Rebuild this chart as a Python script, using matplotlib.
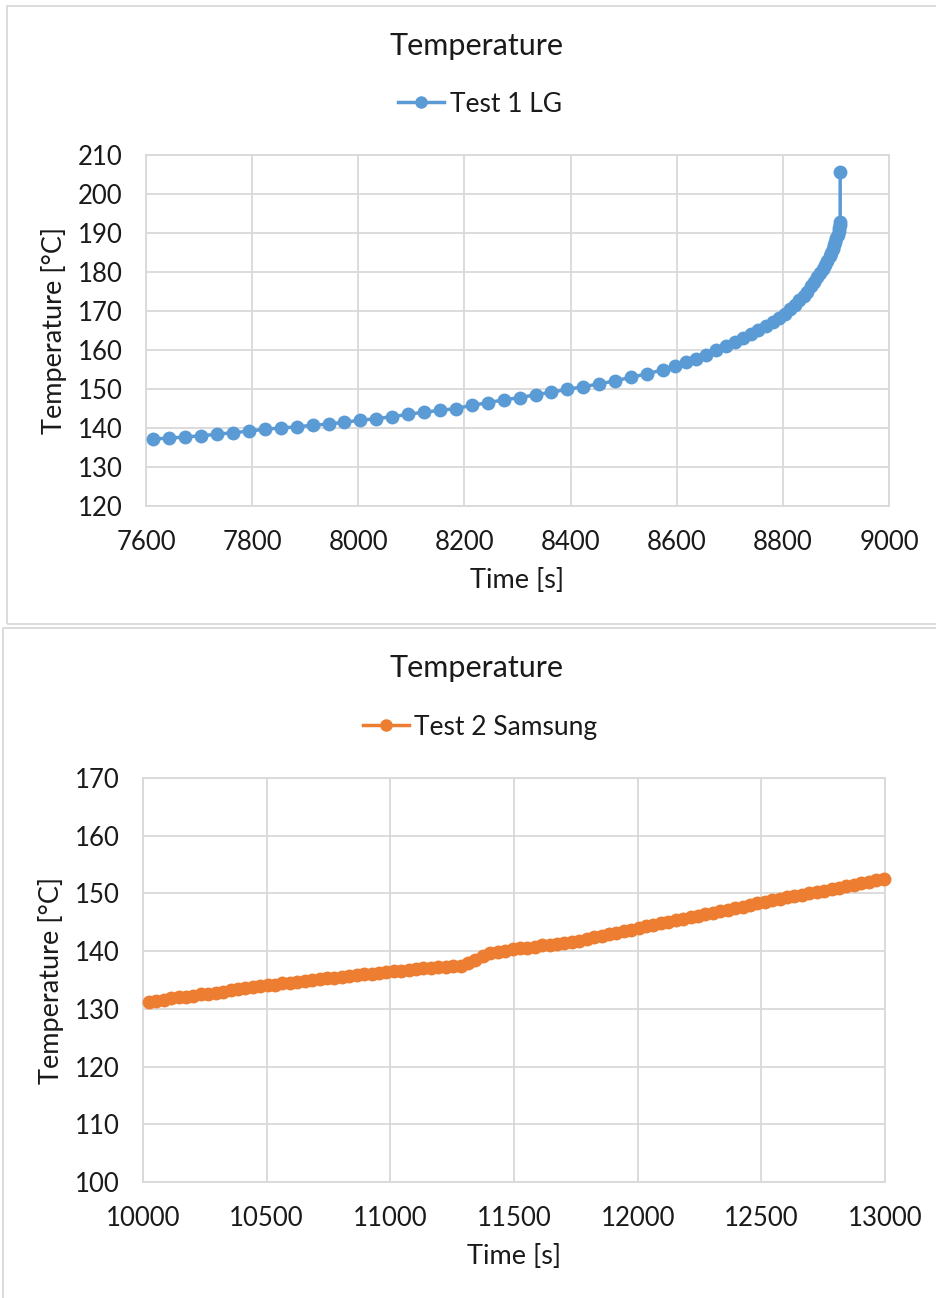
import matplotlib
matplotlib.use("Agg")
import matplotlib.pyplot as plt
from matplotlib.patches import Rectangle

# ---- Test 1 LG: time [s] and temperature [°C] ----
lg_time = [
    7614, 7644, 7674, 7704, 7734, 7764, 7794, 7824, 7854, 7884,
    7914, 7944, 7974, 8004, 8034, 8064, 8094, 8124, 8154, 8184,
    8214, 8244, 8274, 8304, 8334, 8364, 8394, 8424, 8454, 8484,
    8514, 8544, 8574,
    8596, 8617, 8637, 8656, 8674, 8692, 8709, 8725, 8740, 8754,
    8768, 8781, 8793, 8804,
    8814, 8823, 8831, 8839, 8846, 8853, 8859, 8865, 8870, 8875,
    8880, 8884, 8888, 8891, 8894, 8897, 8899, 8901, 8903, 8905,
    8906, 8907, 8908, 8908,
]
lg_temp = [
    137.2, 137.4, 137.7, 138.0, 138.4, 138.8, 139.2, 139.7, 140.0, 140.3,
    140.7, 141.0, 141.5, 142.0, 142.4, 142.9, 143.5, 144.1, 144.5, 145.0,
    145.8, 146.5, 147.2, 147.8, 148.5, 149.2, 149.9, 150.6, 151.3, 152.1,
    153.0, 153.9, 154.9,
    155.8, 156.9, 157.7, 158.8, 160.0, 161.0, 162.0, 163.0, 164.1, 165.1,
    166.1, 167.2, 168.2, 169.2,
    170.4, 171.6, 172.7, 173.8, 175.0, 176.3, 177.5, 178.7, 179.7, 180.7,
    181.8, 182.9, 184.1, 185.0, 186.0, 187.0, 187.8, 188.7, 189.6, 190.6,
    191.3, 192.1, 192.9, 205.6,
]

# ---- Test 2 Samsung: time [s] and temperature [°C] ----
sam_time = [
    10024, 10054, 10084, 10114, 10144, 10174, 10204, 10234, 10264, 10294,
    10324, 10354, 10384, 10414, 10444, 10474, 10504, 10534, 10564, 10594,
    10624, 10654, 10684, 10714, 10744, 10774, 10804, 10834, 10864, 10894,
    10924, 10954, 10984, 11014, 11044, 11074, 11104, 11134, 11164, 11194,
    11224, 11254, 11284, 11314, 11344, 11374, 11404, 11434, 11464, 11494,
    11524, 11554, 11584, 11614, 11644, 11674, 11704, 11734, 11764, 11794,
    11824, 11854, 11884, 11914, 11944, 11974, 12004, 12034, 12064, 12094,
    12124, 12154, 12184, 12214, 12244, 12274, 12304, 12334, 12364, 12394,
    12424, 12454, 12484, 12514, 12544, 12574, 12604, 12634, 12664, 12694,
    12724, 12754, 12784, 12814, 12844, 12874, 12904, 12934, 12964, 12994,
]
sam_temp = [
    131.2, 131.4, 131.6, 131.8, 132.0, 132.1, 132.3, 132.5, 132.6, 132.8,
    133.0, 133.2, 133.4, 133.6, 133.8, 133.9, 134.1, 134.2, 134.4, 134.5,
    134.7, 134.8, 135.0, 135.1, 135.3, 135.4, 135.6, 135.7, 135.9, 136.0,
    136.1, 136.2, 136.4, 136.5, 136.6, 136.8, 136.9, 137.0, 137.1, 137.2,
    137.3, 137.4, 137.5, 137.9, 138.5, 139.1, 139.6, 139.9, 140.1, 140.3,
    140.5, 140.6, 140.8, 141.0, 141.1, 141.3, 141.4, 141.6, 141.8, 142.1,
    142.4, 142.7, 143.0, 143.2, 143.5, 143.7, 144.0, 144.3, 144.6, 144.9,
    145.1, 145.4, 145.6, 145.9, 146.1, 146.4, 146.6, 146.9, 147.2, 147.5,
    147.7, 148.0, 148.3, 148.5, 148.8, 149.1, 149.3, 149.6, 149.8, 150.0,
    150.3, 150.5, 150.8, 151.0, 151.3, 151.5, 151.8, 152.0, 152.3, 152.5,
]

lg_xticks = [7600, 7800, 8000, 8200, 8400, 8600, 8800, 9000]
lg_yticks = [120, 130, 140, 150, 160, 170, 180, 190, 200, 210]
sam_xticks = [10000, 10500, 11000, 11500, 12000, 12500, 13000]
sam_yticks = [100, 110, 120, 130, 140, 150, 160, 170]

W, H = 937, 1298
plt.rcParams["font.family"] = ["Lato", "DejaVu Sans"]
fig = plt.figure(figsize=(W / 100, H / 100), dpi=100)

GRID = "#D9D9D9"
TEXT = "#1A1A1A"


def frac_box(x0, y0, x1, y1):
    """Pixel box (top-left origin) -> figure-fraction rect."""
    return [x0 / W, 1 - y1 / H, (x1 - x0) / W, (y1 - y0) / H]


def panel_border(x0, y0, x1, y1):
    fig.patches.append(Rectangle((x0 / W, 1 - y1 / H), (x1 - x0) / W, (y1 - y0) / H,
                                 transform=fig.transFigure, fill=False,
                                 edgecolor=GRID, linewidth=1.3))


def draw_panel(rect, t, temp, color, label, xticks, yticks, title_y, legend_y,
               xlabel_y, ylabel_x):
    ax = fig.add_axes(frac_box(*rect))
    ax.plot(t, temp, color=color, linewidth=2.5, marker="o", markersize=10,
            markeredgewidth=0, label=label, clip_on=False, zorder=3)
    ax.set_xlim(xticks[0], xticks[-1])
    ax.set_ylim(yticks[0], yticks[-1])
    ax.set_xticks(xticks)
    ax.set_yticks(yticks)
    ax.grid(True, color=GRID, linewidth=1.3)
    ax.set_axisbelow(True)
    for s in ax.spines.values():
        s.set_color(GRID)
        s.set_linewidth(1.3)
    ax.tick_params(length=0, labelsize=18.5, colors=TEXT)
    ax.tick_params(axis="y", pad=17)
    ax.tick_params(axis="x", pad=17)

    cx = (rect[0] + rect[2]) / 2
    cy = (rect[1] + rect[3]) / 2
    fig.text(477 / W, 1 - title_y / H, "Temperature", ha="center", va="center",
             fontsize=22, color=TEXT)
    fig.text(cx / W, 1 - xlabel_y / H, "Time [s]", ha="center", va="center",
             fontsize=19.5, color=TEXT)
    fig.text(ylabel_x / W, 1 - cy / H, "Temperature [°C]", ha="center",
             va="center", rotation=90, fontsize=19.5, color=TEXT)
    leg = ax.legend(loc="center", bbox_to_anchor=(480 / W, 1 - legend_y / H),
                    bbox_transform=fig.transFigure, frameon=False, fontsize=19,
                    handlelength=1.75, handletextpad=0.2, markerscale=0.9)
    for txt in leg.get_texts():
        txt.set_color(TEXT)
    return ax


panel_border(7, 6, 960, 624)
panel_border(3, 628, 960, 1320)

draw_panel((146, 155, 889, 506), lg_time, lg_temp, "#5B9BD5", "Test 1 LG",
           lg_xticks, lg_yticks, title_y=46, legend_y=104, xlabel_y=580,
           ylabel_x=54)
draw_panel((143, 778, 885, 1182), sam_time, sam_temp, "#ED7D31", "Test 2 Samsung",
           sam_xticks, sam_yticks, title_y=668, legend_y=727, xlabel_y=1256,
           ylabel_x=51)

fig.savefig("out.png", dpi=100)
